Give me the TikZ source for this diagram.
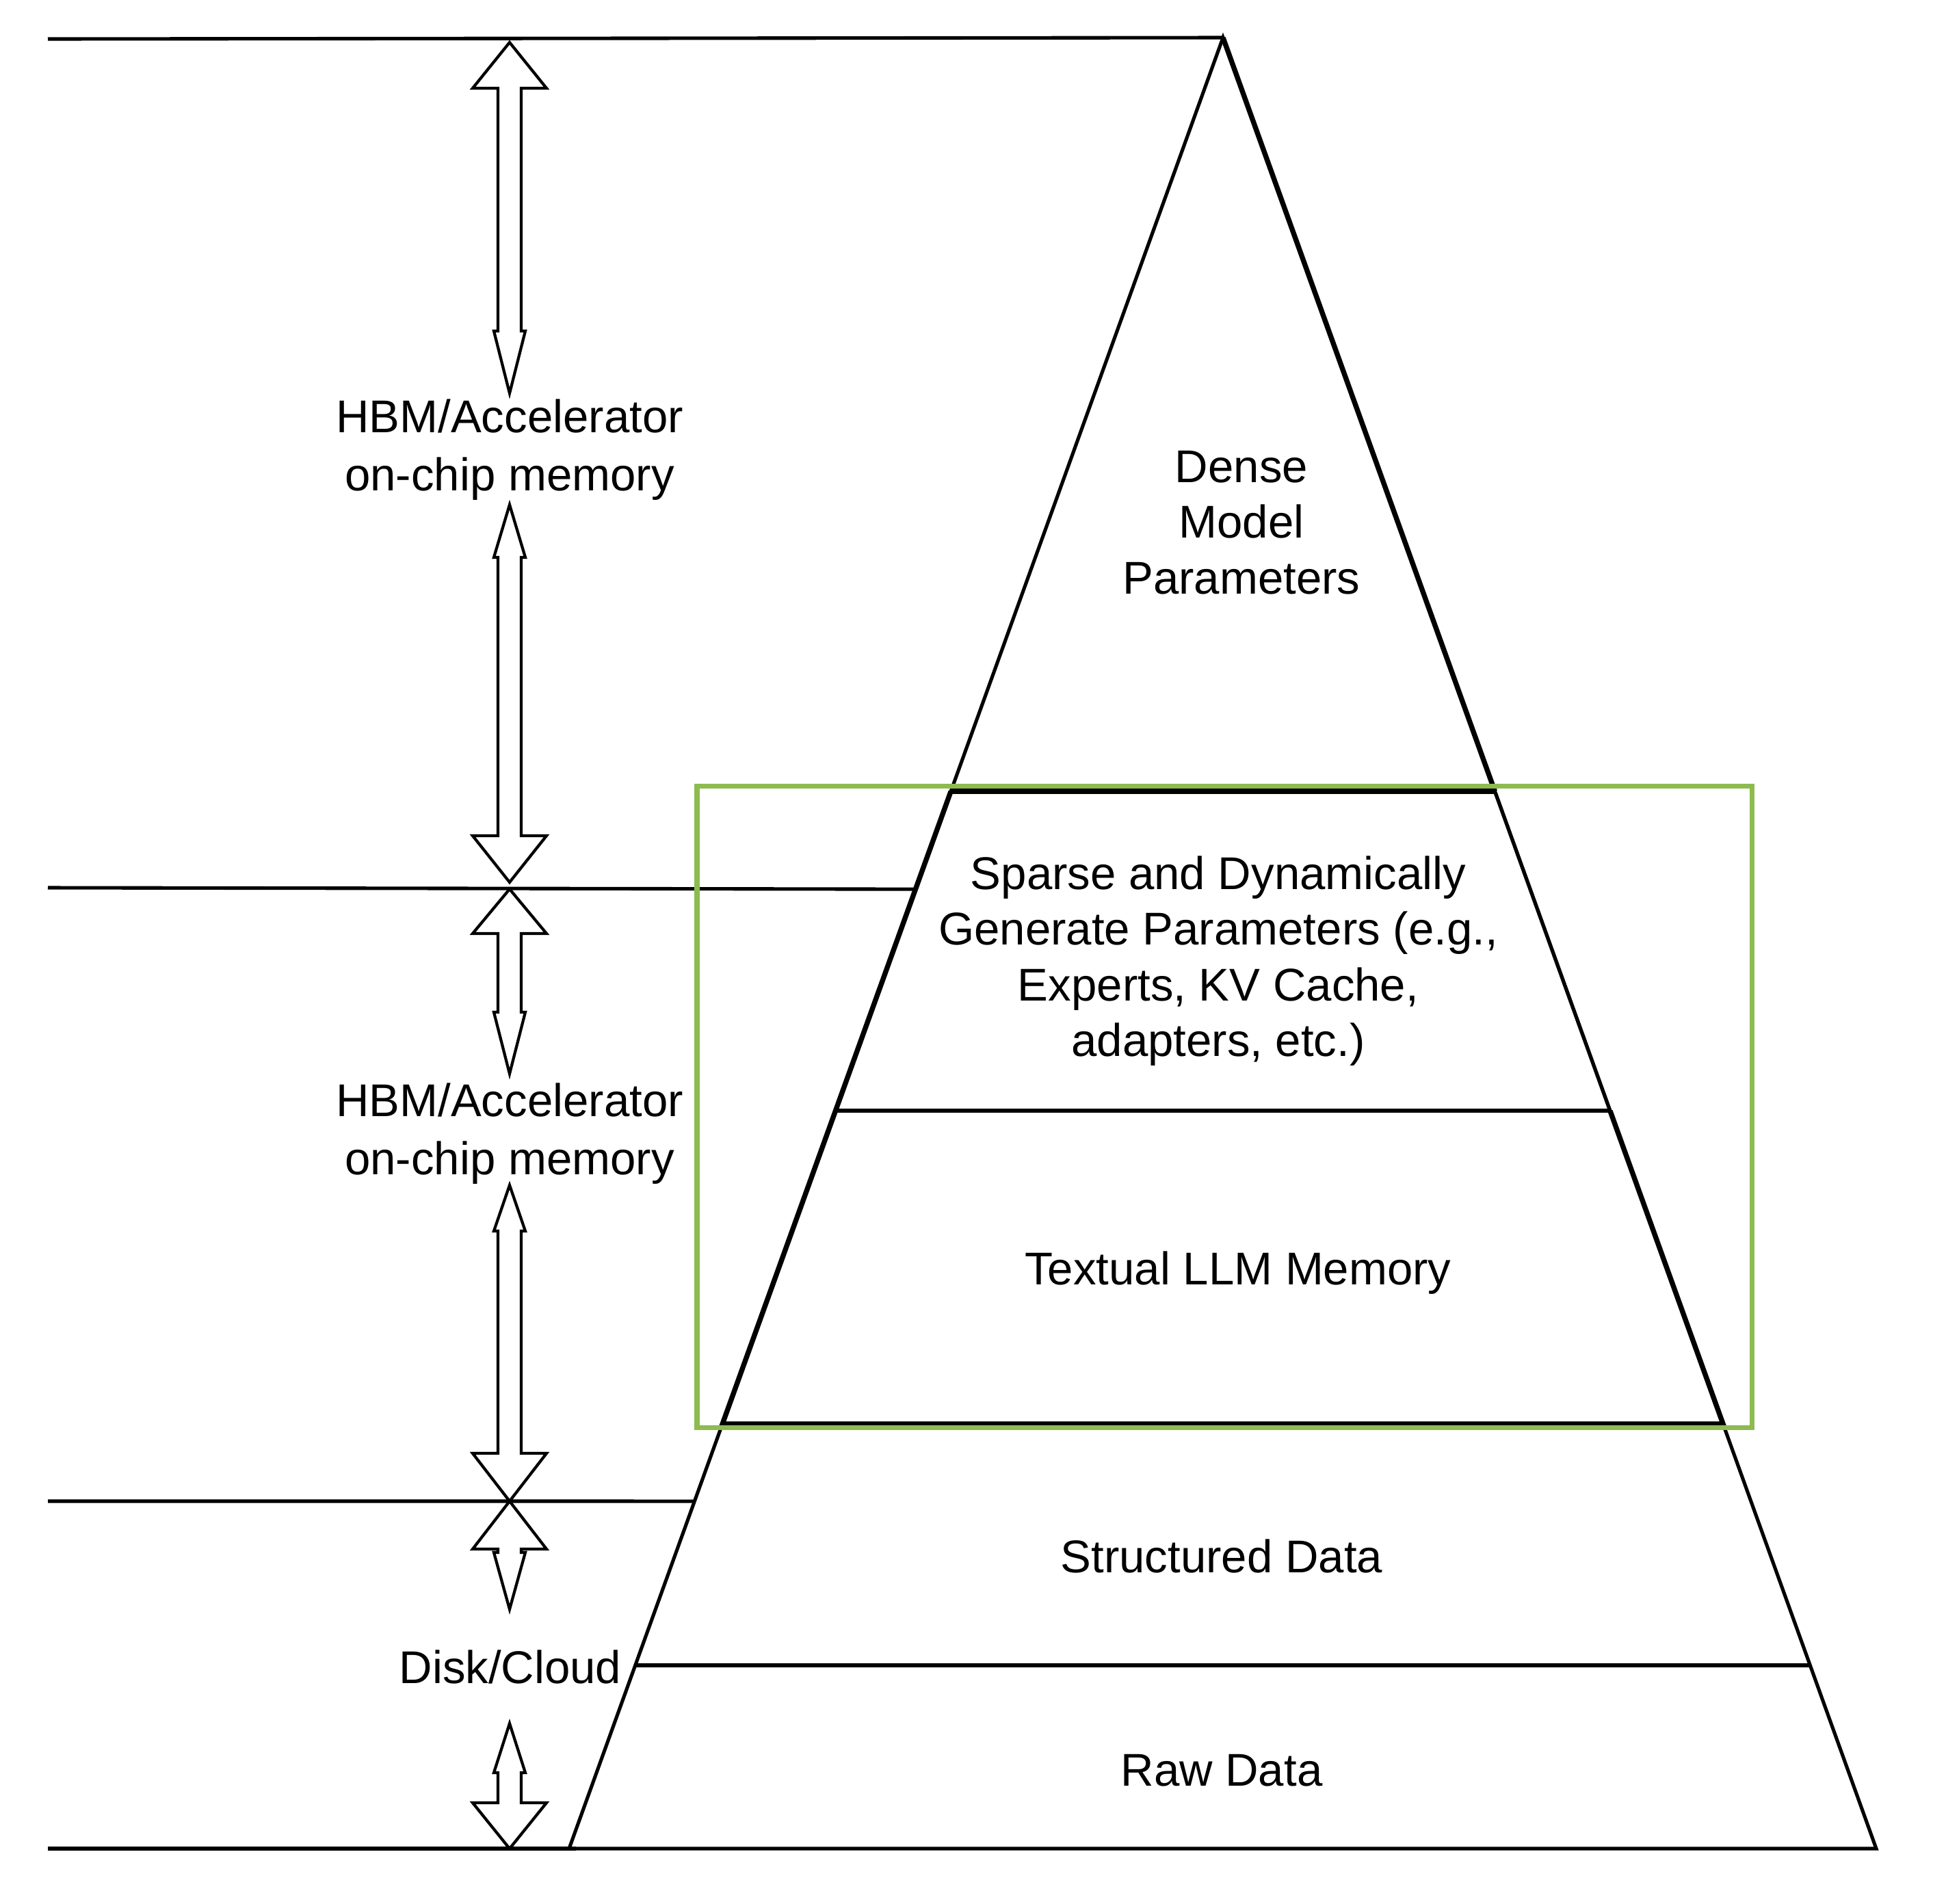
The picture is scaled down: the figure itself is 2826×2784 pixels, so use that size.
\documentclass[tikz,border=0pt]{standalone}
\usepackage{fontspec}
\setmainfont{Liberation Sans}
\usetikzlibrary{calc}
\definecolor{boxgreen}{RGB}{141,187,80}
\begin{document}
\begin{tikzpicture}[x=0.01cm,y=-0.01cm,
  thinline/.style={line width=1.45pt},
  thickline/.style={line width=2.1pt},
  flexarrow/.style={line width=1.2pt, line join=miter, miter limit=20},
  lbl/.style={font=\fontsize{19.1}{23.2}\selectfont, align=center, inner sep=0pt},
  hbm/.style={font=\fontsize{19.1}{24.2}\selectfont, align=center, inner sep=0pt},
]
\useasboundingbox (0,0) rectangle (2826,2784);
% pyramid corners
\coordinate (A) at (1788,55);
\coordinate (BL) at (832,2703);
\coordinate (BR) at (2743,2703);
% layer boundaries on the edges
\coordinate (L1) at ($(A)!0.41616!(BL)$);
\coordinate (R1) at ($(A)!0.41616!(BR)$);
\coordinate (L2) at ($(A)!0.59252!(BL)$);
\coordinate (R2) at ($(A)!0.59252!(BR)$);
\coordinate (L3) at ($(A)!0.76548!(BL)$);
\coordinate (R3) at ($(A)!0.76548!(BR)$);
\coordinate (L4) at ($(A)!0.89879!(BL)$);
\coordinate (R4) at ($(A)!0.89879!(BR)$);
% left level lines
\coordinate (H0) at (70,57);
\coordinate (H1) at (70,1298);
\coordinate (H1e) at ($(A)!0.47022!(BL)$);
\coordinate (H2) at (70,2195);
\coordinate (H2e) at ($(A)!0.80816!(BL)$);
\coordinate (H3) at (70,2703);
\coordinate (H3e) at (842,2703);

% outer pyramid
\draw[thinline] (A) -- (BL) -- (BR) -- cycle;
\draw[thickline] (A) -- (R1);
% structured / raw divider
\draw[thinline] (L4) -- (R4);
% middle section (sparse + textual)
\draw[thickline] (L1) -- (R1);
\draw[thickline] (L1) -- (L2) -- (L3) -- (R3) -- (R2);
\draw[thinline] (R1) -- (R2);
\draw[thinline] (L2) -- (R2);

% level lines on the left
\draw[thinline] (H0) -- (A);
\draw[thinline] (H1) -- (H1e);
\draw[thinline] (H2) -- (H2e);
\draw[thinline] (H3) -- (H3e);

% green frame
\draw[boxgreen, line width=2pt] (1019,1149) rectangle (2561,2087);

% double arrows
\draw[flexarrow] (745,62) -- (799,129) -- (762,129) -- (762,484) -- (768,484) -- (745,575) -- (722,484) -- (728,484) -- (728,129) -- (691,129) -- cycle;
\draw[flexarrow] (745,738) -- (768,815) -- (762,815) -- (762,1222) -- (799,1222) -- (745,1290) -- (691,1222) -- (728,1222) -- (728,815) -- (722,815) -- cycle;
\draw[flexarrow] (745,1300) -- (799,1365) -- (762,1365) -- (762,1480) -- (768,1480) -- (745,1570) -- (722,1480) -- (728,1480) -- (728,1365) -- (691,1365) -- cycle;
\draw[flexarrow] (745,1733) -- (768,1800) -- (762,1800) -- (762,2125) -- (799,2125) -- (745,2195) -- (691,2125) -- (728,2125) -- (728,1800) -- (722,1800) -- cycle;
\draw[flexarrow] (745,2195) -- (799,2265) -- (762,2265) -- (762,2270) -- (768,2270) -- (745,2353) -- (722,2270) -- (728,2270) -- (728,2265) -- (691,2265) -- cycle;
\draw[flexarrow] (745,2520) -- (768,2592) -- (762,2592) -- (762,2636) -- (799,2636) -- (745,2703) -- (691,2636) -- (728,2636) -- (728,2592) -- (722,2592) -- cycle;

% labels
\node[hbm] (hbm1) at (745,658) {HBM/Accelerator\\on-chip memory};
\node[hbm] (hbm2) at (745,1658) {HBM/Accelerator\\on-chip memory};
\node[lbl] (disk) at (746,2437) {Disk/Cloud};
\node[lbl] (dense) at (1815,764) {Dense\\Model\\Parameters};
\node[lbl] (sparse) at (1781,1405) {Sparse and Dynamically\\Generate Parameters (e.g.,\\Experts, KV Cache,\\adapters, etc.)};
\node[lbl] (textual) at (1810,1861) {Textual LLM Memory};
\node[lbl] (struct) at (1786,2275) {Structured Data};
\node[lbl] (raw) at (1786,2589) {Raw Data};
\end{tikzpicture}
\end{document}
